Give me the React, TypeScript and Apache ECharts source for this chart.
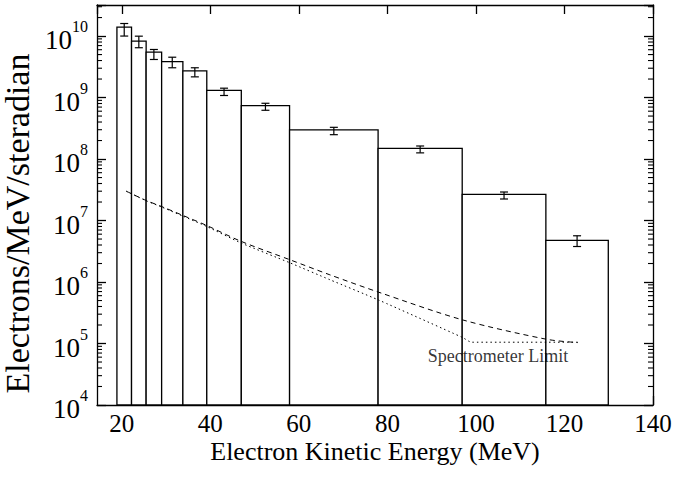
import React, { useEffect, useRef } from "react";
import * as echarts from "echarts";

// Histogram bin edges (MeV) and heights (electrons/MeV/sr)
const binEdges = [18.9, 22.2, 25.5, 29.0, 33.8, 39.2, 47.0, 57.9, 77.9, 96.9, 115.8, 129.9];
const binValues = [1.4e10, 8.26e9, 5.47e9, 3.85e9, 2.72e9, 1.31e9, 7.41e8, 2.98e8, 1.49e8, 2.66e7, 4.74e6];
const errLow = [1.0e10, 6.46e9, 4.16e9, 3.05e9, 2.17e9, 1.08e9, 6.21e8, 2.49e8, 1.26e8, 2.24e7, 3.78e6];
const errHigh = [1.6e10, 9.96e9, 6.05e9, 4.53e9, 3.05e9, 1.42e9, 8.07e8, 3.28e8, 1.63e8, 2.91e7, 5.65e6];

// Dashed curve
const dashedE = [21, 25.5, 29, 33.8, 39.2, 47, 58, 67, 78, 97, 116, 123];
const dashedV = [3.0e7, 2.12e7, 1.69e7, 1.21e7, 8.3e6, 4.57e6, 2.3e6, 1.31e6, 6.84e5, 2.42e5, 1.17e5, 1.035e5];

// Dotted curve (spectrometer limit)
const dottedE = [21, 25.5, 29, 33.8, 39.2, 47, 58, 67, 78, 97, 99, 123];
const dottedV = [3.0e7, 2.1e7, 1.66e7, 1.18e7, 8.0e6, 4.3e6, 2.05e6, 1.09e6, 5.1e5, 1.25e5, 1.05e5, 1.05e5];

const decades = [4, 5, 6, 7, 8, 9, 10];
const minorMultipliers = [2, 3, 4, 5, 6, 7, 8, 9];

const X_MIN = 14.4;
const X_MAX = 140;
const Y_MIN = 1e4;
const Y_MAX = 3.2e10;

const FONT = "Liberation Serif";

export default function App() {
  const ref = useRef<HTMLDivElement>(null);

  useEffect(() => {
    document.body.style.margin = "0";
    if (!ref.current) return;
    const chart = echarts.init(ref.current, null, { renderer: "svg" });

    const bars = binValues.map((v, i) => [binEdges[i], binEdges[i + 1], v]);
    const errs = binValues.map((v, i) => [
      (binEdges[i] + binEdges[i + 1]) / 2,
      errLow[i],
      errHigh[i],
    ]);
    const minorTicks: number[][] = [];
    decades.forEach((d) => {
      minorMultipliers.forEach((m) => {
        const v = m * Math.pow(10, d);
        if (v < Y_MAX) minorTicks.push([X_MIN, v]);
      });
    });

    const yLabelFormatter = (value: number) => {
      const l = Math.log10(value);
      const e = Math.round(l);
      if (Math.abs(l - e) > 1e-6) return "";
      return `{b|10}{s|${e}}`;
    };

    const axisLineStyle = { color: "#000", width: 1.3 };

    const option: any = {
      animation: false,
      backgroundColor: "#fff",
      textStyle: { fontFamily: FONT },
      grid: {
        left: 97,
        right: 20,
        top: 5,
        bottom: 75,
        containLabel: false,
        outerBoundsMode: "none",
      },
      xAxis: [
        {
          type: "value",
          min: X_MIN,
          max: X_MAX,
          splitNumber: 6,
          position: "bottom",
          axisLine: { show: true, lineStyle: axisLineStyle },
          axisTick: { show: true, inside: true, length: 9, lineStyle: axisLineStyle },
          splitLine: { show: false },
          axisLabel: {
            show: true,
            showMinLabel: false,
            margin: 7,
            color: "#000",
            fontSize: 25,
            lineHeight: 22,
            fontFamily: FONT,
          },
          name: "Electron Kinetic Energy (MeV)",
          nameLocation: "middle",
          nameGap: 34,
          nameMoveOverlap: false,
          nameTextStyle: { color: "#000", fontSize: 26, lineHeight: 24, fontFamily: FONT },
        },
        {
          type: "value",
          min: X_MIN,
          max: X_MAX,
          splitNumber: 6,
          position: "top",
          axisLine: { show: true, lineStyle: axisLineStyle },
          axisTick: { show: true, inside: true, length: 9, lineStyle: axisLineStyle },
          splitLine: { show: false },
          axisLabel: { show: false },
        },
      ],
      yAxis: [
        {
          type: "log",
          logBase: 10,
          min: Y_MIN,
          max: Y_MAX,
          position: "left",
          axisLine: { show: true, lineStyle: axisLineStyle },
          axisTick: { show: true, inside: true, length: 9, lineStyle: axisLineStyle },
          splitLine: { show: false },
          axisLabel: {
            show: true,
            margin: 9,
            color: "#000",
            fontFamily: FONT,
            formatter: yLabelFormatter,
            rich: {
              b: { fontSize: 27, fontFamily: FONT, color: "#000", padding: [8, 0, 0, 0] },
              s: { fontSize: 16, fontFamily: FONT, color: "#000", verticalAlign: "top" },
            },
          },
          name: "Electrons/MeV/steradian",
          nameLocation: "middle",
          nameGap: 58,
          nameRotate: 90,
          nameTextStyle: {
            color: "#000",
            fontSize: 34,
            fontFamily: FONT,
            padding: [0, 37, 0, 0],
          },
        },
        {
          type: "log",
          logBase: 10,
          min: Y_MIN,
          max: Y_MAX,
          position: "right",
          axisLine: { show: true, lineStyle: axisLineStyle },
          axisTick: { show: true, inside: true, length: 9, lineStyle: axisLineStyle },
          splitLine: { show: false },
          axisLabel: { show: false },
        },
      ],
      series: [
        {
          type: "custom",
          name: "bins",
          xAxisIndex: 0,
          yAxisIndex: 0,
          data: bars,
          encode: { x: [0, 1], y: 2 },
          z: 2,
          renderItem: (params: any, api: any) => {
            const x0 = api.value(0);
            const x1 = api.value(1);
            const v = api.value(2);
            const p0 = api.coord([x0, v]);
            const p1 = api.coord([x1, Y_MIN]);
            return {
              type: "rect",
              shape: { x: p0[0], y: p0[1], width: p1[0] - p0[0], height: p1[1] - p0[1] },
              style: { fill: "#fff", stroke: "#000", lineWidth: 1.3 },
            };
          },
        },
        {
          type: "line",
          name: "dashed",
          xAxisIndex: 0,
          yAxisIndex: 0,
          data: dashedE.map((e, i) => [e, dashedV[i]]),
          symbol: "none",
          smooth: 0.3,
          z: 3,
          lineStyle: { color: "#000", width: 1, type: [5, 4] },
        },
        {
          type: "line",
          name: "dotted",
          xAxisIndex: 0,
          yAxisIndex: 0,
          data: dottedE.map((e, i) => [e, dottedV[i]]),
          symbol: "none",
          smooth: 0.2,
          z: 3,
          lineStyle: { color: "#000", width: 1, type: [1.5, 3] },
        },
        {
          type: "custom",
          name: "errors",
          xAxisIndex: 0,
          yAxisIndex: 0,
          data: errs,
          encode: { x: 0, y: [1, 2] },
          z: 4,
          renderItem: (params: any, api: any) => {
            const xc = api.value(0);
            const lo = api.coord([xc, api.value(1)]);
            const hi = api.coord([xc, api.value(2)]);
            const w = 4;
            const st = { stroke: "#000", lineWidth: 1.2 };
            return {
              type: "group",
              children: [
                { type: "line", shape: { x1: lo[0], y1: lo[1], x2: hi[0], y2: hi[1] }, style: st },
                { type: "line", shape: { x1: lo[0] - w, y1: lo[1], x2: lo[0] + w, y2: lo[1] }, style: st },
                { type: "line", shape: { x1: hi[0] - w, y1: hi[1], x2: hi[0] + w, y2: hi[1] }, style: st },
              ],
            };
          },
        },
        {
          type: "custom",
          name: "minorTicks",
          xAxisIndex: 0,
          yAxisIndex: 0,
          data: minorTicks,
          encode: { x: 0, y: 1 },
          z: 5,
          silent: true,
          renderItem: (params: any, api: any) => {
            const v = api.value(1);
            const l = api.coord([X_MIN, v]);
            const r = api.coord([X_MAX, v]);
            const st = { stroke: "#000", lineWidth: 1.1 };
            return {
              type: "group",
              children: [
                { type: "line", shape: { x1: l[0], y1: l[1], x2: l[0] + 5, y2: l[1] }, style: st },
                { type: "line", shape: { x1: r[0] - 5, y1: r[1], x2: r[0], y2: r[1] }, style: st },
              ],
            };
          },
        },
        {
          type: "scatter",
          name: "limitLabel",
          xAxisIndex: 0,
          yAxisIndex: 0,
          data: [[105, 6.3e4]],
          symbolSize: 1,
          itemStyle: { color: "rgba(0,0,0,0)" },
          z: 6,
          label: {
            show: true,
            position: "inside",
            formatter: "Spectrometer Limit",
            color: "#000",
            fontSize: 18,
            fontFamily: FONT,
          },
        },
      ],
    };

    chart.setOption(option);
    return () => chart.dispose();
  }, []);

  return <div ref={ref} style={{ width: 673, height: 480 }} />;
}
